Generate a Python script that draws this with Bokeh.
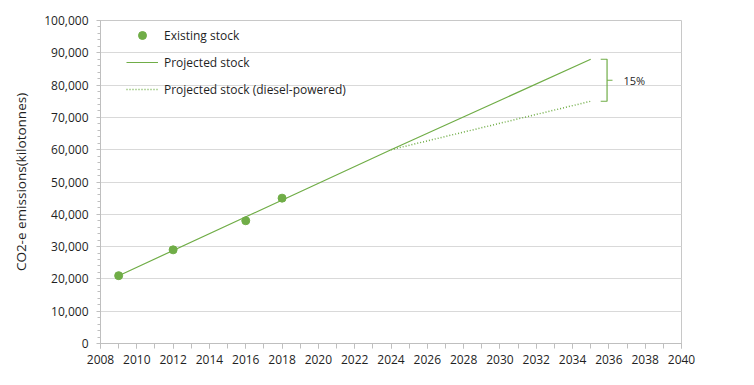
from bokeh.plotting import figure
from bokeh.models import (Legend, LegendItem, NumeralTickFormatter,
                          SingleIntervalTicker, Range1d, Label)
from bokeh.embed import file_html
from bokeh.resources import INLINE

# ---- data ----
existing_years = [2009, 2012, 2016, 2018]
existing_values = [21000, 29000, 38000, 45000]
projected_years = [2009, 2024, 2035]
projected_values = [21000, 60000, 88000]
diesel_years = [2024, 2035]
diesel_values = [60000, 75000]
bracket_label = "15%"
bracket_x = 2035.9

GREEN = "#70AD47"
FONT = "Open Sans"
TEXT = "#1f1f1f"

p = figure(width=738, height=369, output_backend="svg", toolbar_location=None,
           x_range=Range1d(2008, 2040), y_range=Range1d(0, 100000),
           min_border_left=100, min_border_right=57, min_border_top=20, min_border_bottom=26)
p.background_fill_color = "white"
p.border_fill_color = "white"
p.outline_line_color = "#c8c8c8"
p.outline_line_width = 1

r_proj = p.line(projected_years, projected_values, line_color=GREEN, line_width=1.2)
r_dies = p.line(diesel_years, diesel_values, line_color=GREEN, line_width=1.5, line_dash="1 2")
r_exist = p.scatter(existing_years, existing_values, size=8, fill_color=GREEN, line_color=GREEN)

# bracket annotation between the two projection end points
top = projected_values[-1]
bot = diesel_values[-1]
mid = (top + bot) / 2
hook = 0.35
p.line([bracket_x - hook, bracket_x, bracket_x, bracket_x - hook], [top, top, bot, bot],
       line_color=GREEN, line_width=1.2)
p.line([bracket_x, bracket_x + 0.3], [mid, mid], line_color=GREEN, line_width=1.2)
p.add_layout(Label(x=bracket_x + 0.9, y=mid, text=bracket_label, text_font=FONT,
                   text_font_size="11px", text_color=TEXT, text_baseline="middle"))

# axes
p.xaxis.ticker = SingleIntervalTicker(interval=2, num_minor_ticks=2)
p.yaxis.ticker = SingleIntervalTicker(interval=10000, num_minor_ticks=5)
p.yaxis.formatter = NumeralTickFormatter(format="0,0")
for ax in (p.xaxis[0], p.yaxis[0]):
    ax.axis_line_color = "#bfbfbf"
    ax.major_tick_line_color = "#bfbfbf"
    ax.minor_tick_line_color = "#bfbfbf"
    ax.major_label_text_font = FONT
    ax.major_label_text_font_size = "12px"
    ax.major_label_text_color = TEXT
    ax.axis_label_text_font = FONT
    ax.axis_label_text_font_size = "13.5px"
    ax.axis_label_text_font_style = "normal"
    ax.axis_label_text_color = TEXT
p.xaxis.major_tick_in = 0
p.xaxis.major_tick_out = 5
p.xaxis.minor_tick_in = 0
p.xaxis.minor_tick_out = 5
p.xaxis.major_label_standoff = 6
p.yaxis.major_tick_in = 0
p.yaxis.major_tick_out = 4
p.yaxis.minor_tick_in = 0
p.yaxis.minor_tick_out = 3
p.yaxis.major_label_standoff = 8
p.yaxis.axis_label = "CO2-e emissions(kilotonnes)"
p.yaxis.axis_label_standoff = 11

p.xgrid.grid_line_color = None
p.ygrid.grid_line_color = "#d9d9d9"

legend = Legend(items=[
    LegendItem(label="Existing stock", renderers=[r_exist]),
    LegendItem(label="Projected stock", renderers=[r_proj]),
    LegendItem(label="Projected stock (diesel-powered)", renderers=[r_dies]),
], location=(26, 244))
legend.border_line_color = None
legend.background_fill_alpha = 0
legend.label_text_font = FONT
legend.label_text_font_size = "12px"
legend.label_text_color = TEXT
legend.glyph_width = 32
legend.label_height = 20
legend.glyph_height = 20
legend.spacing = 7
legend.margin = 0
legend.padding = 6
legend.label_standoff = 6
p.add_layout(legend)

open("out.html", "w").write(file_html(p, INLINE))
